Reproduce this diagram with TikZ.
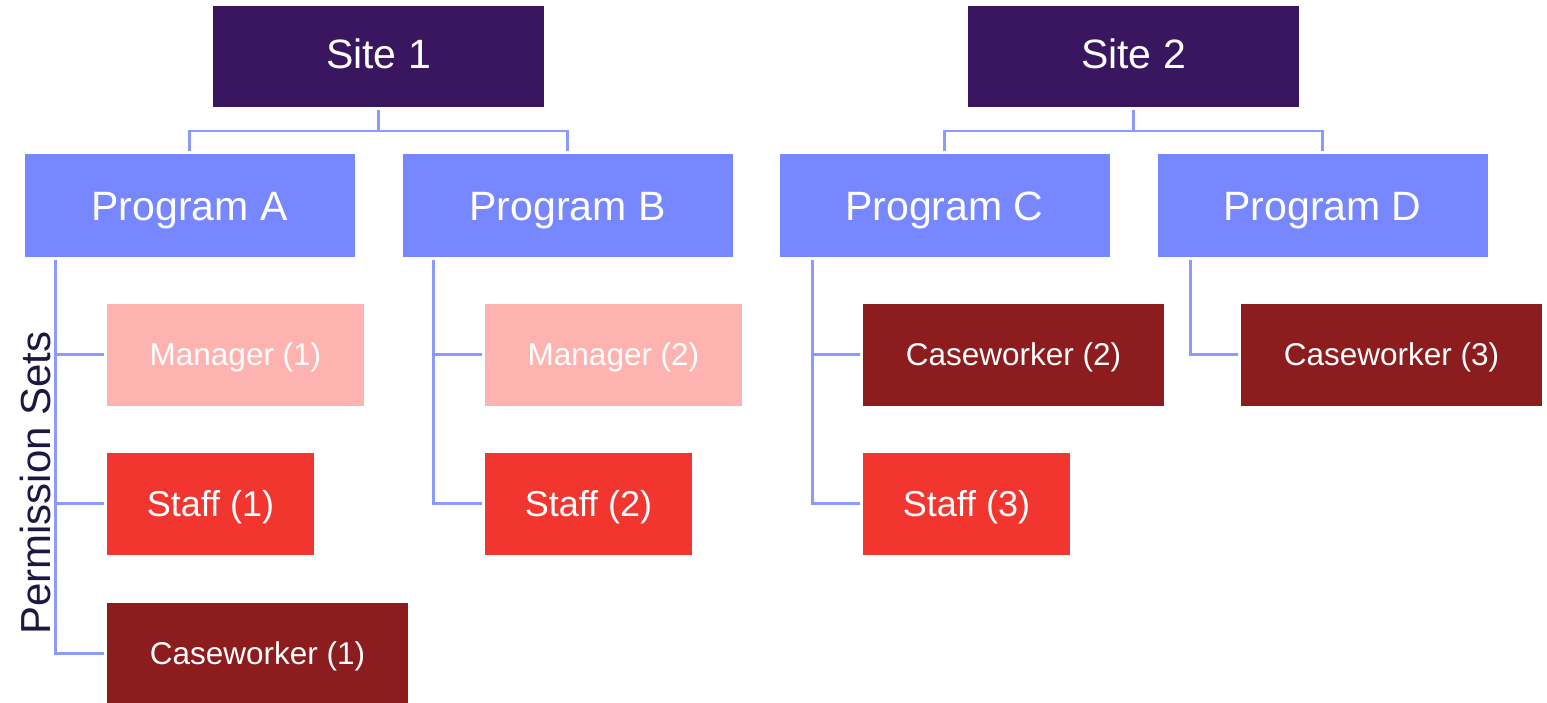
\documentclass[tikz,border=0pt]{standalone}
\usepackage{fontspec}
\setmainfont{Liberation Sans}
\definecolor{sitecol}{HTML}{3A1560}
\definecolor{progcol}{HTML}{7787FF}
\definecolor{mgrcol}{HTML}{FFB3B1}
\definecolor{staffcol}{HTML}{F2352F}
\definecolor{casecol}{HTML}{8C1C1D}
\definecolor{linecol}{HTML}{8A9AFF}
\definecolor{labelcol}{HTML}{1C1840}
\tikzset{
  box/.style={inner sep=0pt, text=white, align=center, text depth=0pt},
  site/.style={box, fill=sitecol, minimum width=331pt, minimum height=101pt,
    font=\fontsize{41pt}{41pt}\selectfont, text height=29.4pt, text depth=5pt},
  prog/.style={box, fill=progcol, minimum width=330pt, minimum height=103pt,
    font=\fontsize{41pt}{41pt}\selectfont, text height=29.4pt},
  perm/.style={box, minimum height=102pt, font=\fontsize{31.5pt}{31.5pt}\selectfont,
    text height=22.6pt},
  mgr/.style={perm, fill=mgrcol, minimum width=257pt},
  staff/.style={perm, fill=staffcol, minimum width=207pt,
    font=\fontsize{36pt}{36pt}\selectfont, text height=25.8pt},
  casew/.style={perm, fill=casecol, minimum width=301pt},
  conn/.style={draw=linecol, line width=2.5pt},
}
\begin{document}
\begin{tikzpicture}[x=1pt, y=-1pt]
\useasboundingbox (0,0) rectangle (1547,702);
\clip (0,0) rectangle (1547,702);

% sites
\node[site] (s1) at (378.5,56.5) {Site 1};
\node[site] (s2) at (1133.5,56.5) {Site 2};

% programs
\node[prog] (pa) at (189.5,205.5) {Program A};
\node[prog] (pb) at (567.5,205.5) {Program B};
\node[prog] (pc) at (944.5,205.5) {Program C};
\node[prog] (pd) at (1322.5,205.5) {Program D};

% permission sets
\node[mgr]   (m1) at (235.5,354.5) {Manager (1)};
\node[staff] (t1) at (210.5,503.5) {Staff (1)};
\node[casew] (c1) at (257.5,653.5) {Caseworker (1)};
\node[mgr]   (m2) at (613.5,354.5) {Manager (2)};
\node[staff] (t2) at (588.5,503.5) {Staff (2)};
\node[casew] (c2) at (1013.5,354.5) {Caseworker (2)};
\node[staff] (t3) at (966.5,503.5) {Staff (3)};
\node[casew] (c3) at (1391.5,354.5) {Caseworker (3)};

\node[rotate=90, anchor=base, text=labelcol,
  font=\fontsize{42pt}{42pt}\selectfont] (ps) at (50,483) {Permission Sets};

% site to program buses
\draw[conn] ([yshift=-3pt]s1.south) -- ([yshift=-24pt]s1.south);
\draw[conn] ([yshift=3pt]pa.north) |- ([yshift=-24pt]s1.south) -| ([yshift=3pt]pb.north);
\draw[conn] ([yshift=-3pt]s2.south) -- ([yshift=-24pt]s2.south);
\draw[conn] ([yshift=3pt]pc.north) |- ([yshift=-24pt]s2.south) -| ([yshift=3pt]pd.north);

% program to permission set branches
\coordinate (ta) at ([xshift=31pt,yshift=-3pt]pa.south west);
\draw[conn] (ta) |- ([xshift=-3pt]c1.west);
\draw[conn] (ta |- m1.west) -- ([xshift=-3pt]m1.west);
\draw[conn] (ta |- t1.west) -- ([xshift=-3pt]t1.west);

\coordinate (tb) at ([xshift=31pt,yshift=-3pt]pb.south west);
\draw[conn] (tb) |- ([xshift=-3pt]t2.west);
\draw[conn] (tb |- m2.west) -- ([xshift=-3pt]m2.west);

\coordinate (tc) at ([xshift=33pt,yshift=-3pt]pc.south west);
\draw[conn] (tc) |- ([xshift=-3pt]t3.west);
\draw[conn] (tc |- c2.west) -- ([xshift=-3pt]c2.west);

\coordinate (td) at ([xshift=33pt,yshift=-3pt]pd.south west);
\draw[conn] (td) |- ([xshift=-3pt]c3.west);
\end{tikzpicture}
\end{document}
